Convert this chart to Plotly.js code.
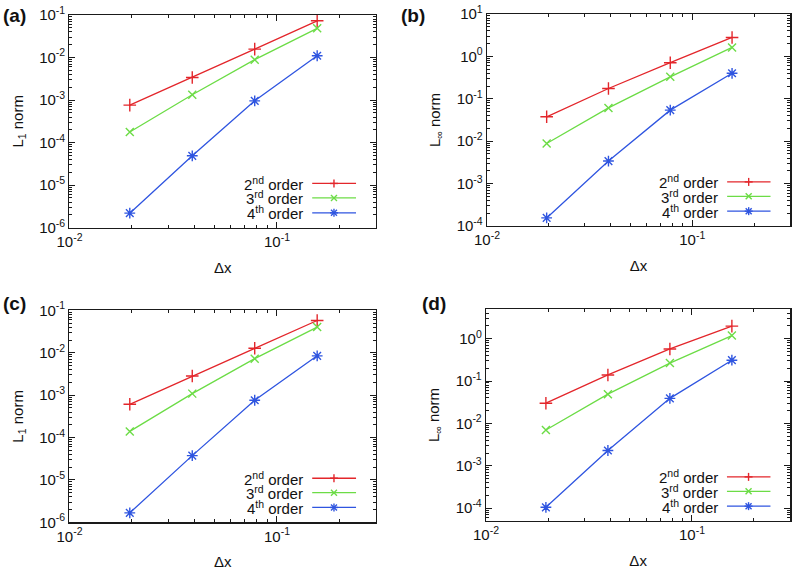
<!DOCTYPE html>
<html>
<head>
<meta charset="utf-8">
<script src="https://cdn.plot.ly/plotly-3.0.1.min.js"></script>
<style>html,body{margin:0;padding:0;background:#fff;}#plot{width:793px;height:572px;}</style>
</head>
<body>
<div id="plot"></div>
<script>
// ---- data ----
const dx = [0.01953125, 0.0390625, 0.078125, 0.15625];
const seriesNames = ['2<sup>nd</sup> order', '3<sup>rd</sup> order', '4<sup>th</sup> order'];
const panelLabels = ['(a)', '(b)', '(c)', '(d)'];
const yTitles = ['L<sub>1</sub> norm', 'L<sub>∞</sub> norm', 'L<sub>1</sub> norm', 'L<sub>∞</sub> norm'];
const xTitle = 'Δx';

const a2 = [7.6e-4, 3.4e-3, 1.58e-2, 7.3e-2];
const a3 = [1.78e-4, 1.33e-3, 8.9e-3, 4.85e-2];
const a4 = [2.2e-6, 4.9e-5, 9.6e-4, 1.1e-2];
const b2 = [0.0376, 0.175, 0.71, 2.8];
const b3 = [8.8e-3, 0.061, 0.33, 1.63];
const b4 = [1.55e-4, 3.4e-3, 0.054, 0.40];
const c2 = [6.1e-4, 2.85e-3, 1.28e-2, 5.8e-2];
const c3 = [1.4e-4, 1.09e-3, 7.3e-3, 4.05e-2];
const c4 = [1.67e-6, 3.75e-5, 7.6e-4, 8.5e-3];
const d2 = [0.030, 0.139, 0.57, 1.97];
const d3 = [7.0e-3, 0.049, 0.265, 1.18];
const d4 = [1.05e-4, 2.3e-3, 0.039, 0.31];

const xTickVals = [0.01, 0.1];
const xTickText = ['10<sup>-2</sup>', '10<sup>-1</sup>'];
const yTickValsL1 = [1e-6, 1e-5, 1e-4, 1e-3, 1e-2, 1e-1];
const yTickTextL1 = ['10<sup>-6</sup>', '10<sup>-5</sup>', '10<sup>-4</sup>', '10<sup>-3</sup>', '10<sup>-2</sup>', '10<sup>-1</sup>'];
const yTickValsB = [1e-4, 1e-3, 1e-2, 1e-1, 1, 10];
const yTickTextB = ['10<sup>-4</sup>', '10<sup>-3</sup>', '10<sup>-2</sup>', '10<sup>-1</sup>', '10<sup>0</sup>', '10<sup>1</sup>'];
const yTickValsD = [1e-4, 1e-3, 1e-2, 1e-1, 1];
const yTickTextD = ['10<sup>-4</sup>', '10<sup>-3</sup>', '10<sup>-2</sup>', '10<sup>-1</sup>', '10<sup>0</sup>'];

// ---- style ----
const W = 793, H = 572;
const FONT = 'Liberation Sans, Arial, Helvetica, sans-serif';
const colors = ['#e3262b', '#6cdc46', '#2f55e0'];
const symbols = ['cross-thin-open', 'x-thin-open', 'asterisk-open'];
const sizes = [9, 8, 9];
const AX = '#1a1a1a';

// minor tick positions (2..9 within each decade) for the log axes
function minorTicks(lo, hi) {
  const out = [];
  for (let e = Math.floor(lo) - 1; e <= Math.ceil(hi); e++)
    for (let m = 2; m <= 9; m++) out.push(m * Math.pow(10, e));
  return out;
}

const panels = [
  {vals: [a2, a3, a4], xd: [0.0876, 0.4741], yd: [0.6019, 0.9738], yr: [-6, -1], tv: yTickValsL1, tt: yTickTextL1},
  {vals: [b2, b3, b4], xd: [0.6141, 0.9965], yd: [0.6049, 0.9755], yr: [-4, 1], tv: yTickValsB, tt: yTickTextB},
  {vals: [c2, c3, c4], xd: [0.0876, 0.4741], yd: [0.0869, 0.4572], yr: [-6, -1], tv: yTickValsL1, tt: yTickTextL1},
  {vals: [d2, d3, d4], xd: [0.6129, 0.9965], yd: [0.0892, 0.4598], yr: [Math.log10(5e-5), Math.log10(5)], tv: yTickValsD, tt: yTickTextD}
];
const labelPos = [[14, 15], [413, 15], [14, 303], [434, 303]];

const traces = [];
const layout = {
  width: W, height: H,
  margin: {l: 0, r: 0, t: 0, b: 0},
  paper_bgcolor: '#fff', plot_bgcolor: '#fff',
  font: {family: FONT, size: 15, color: '#111'},
  showlegend: false,
  shapes: [], annotations: []
};

const legRows = [0.208, 0.140, 0.070];
function dp(d, f) { return d[0] + f * (d[1] - d[0]); }

panels.forEach((p, k) => {
  const n = k === 0 ? '' : String(k + 1);
  const xa = 'x' + n, ya = 'y' + n;
  p.vals.forEach((v, i) => {
    traces.push({
      x: dx, y: v, xaxis: xa, yaxis: ya, type: 'scatter', mode: 'lines+markers',
      line: {color: colors[i], width: 1.3},
      marker: {symbol: symbols[i], size: sizes[i], color: colors[i], line: {color: colors[i], width: 1.4}},
      hoverinfo: 'skip'
    });
  });
  function axis(extra, lo, hi) {
    return Object.assign({
      type: 'log', showline: true, linecolor: AX, linewidth: 1.3, mirror: 'ticks',
      ticks: 'inside', ticklen: 6, tickwidth: 1, tickcolor: AX,
      showgrid: false, zeroline: false, tickmode: 'array',
      tickfont: {family: FONT, size: 15, color: '#111'},
      minor: {ticks: 'inside', ticklen: 3, tickwidth: 1, tickcolor: AX, showgrid: false, tickmode: 'array', tickvals: minorTicks(lo, hi)}
    }, extra);
  }
  const xr = [-2, Math.log10(0.3)];
  layout['xaxis' + n] = axis({
    domain: p.xd, anchor: ya, range: xr,
    tickvals: xTickVals, ticktext: xTickText,
    title: {text: xTitle, font: {family: FONT, size: 15}, standoff: 13}
  }, xr[0], xr[1]);
  layout['yaxis' + n] = axis({
    domain: p.yd, anchor: xa, range: p.yr,
    tickvals: p.tv, ticktext: p.tt,
    title: {text: yTitles[k], font: {family: FONT, size: 15}, standoff: 12}
  }, p.yr[0], p.yr[1]);
  // panel label
  layout.annotations.push({
    xref: 'paper', yref: 'paper', x: labelPos[k][0] / W, y: 1 - labelPos[k][1] / H,
    xanchor: 'center', yanchor: 'middle', showarrow: false,
    text: '<b>' + panelLabels[k] + '</b>', font: {family: FONT, size: 19, color: '#111'}
  });
  // custom legend (text left, sample right)
  const lx0 = dp(p.xd, 0.792), lx1 = dp(p.xd, 0.935), mx = dp(p.xd, 0.863);
  const tx = dp(p.xd, 0.768);
  const sx = 4 / W, sy = 4 / H;
  seriesNames.forEach((name, i) => {
    const yy = dp(p.yd, legRows[i]);
    layout.annotations.push({
      xref: 'paper', yref: 'paper', x: tx, y: yy, xanchor: 'right', yanchor: 'middle',
      showarrow: false, text: name, font: {family: FONT, size: 15, color: '#111'}
    });
    layout.shapes.push({type: 'line', xref: 'paper', yref: 'paper', x0: lx0, x1: lx1, y0: yy, y1: yy, line: {color: colors[i], width: 1.3}});
    const segs = [];
    if (i === 0 || i === 2) { segs.push([-sx, 0, sx, 0]); segs.push([0, -sy, 0, sy]); }
    if (i === 1 || i === 2) { segs.push([-sx * 0.75, -sy * 0.75, sx * 0.75, sy * 0.75]); segs.push([-sx * 0.75, sy * 0.75, sx * 0.75, -sy * 0.75]); }
    segs.forEach(s => layout.shapes.push({
      type: 'line', xref: 'paper', yref: 'paper',
      x0: mx + s[0], y0: yy + s[1], x1: mx + s[2], y1: yy + s[3], line: {color: colors[i], width: 1.4}
    }));
  });
});

Plotly.newPlot('plot', traces, layout, {staticPlot: true, displayModeBar: false});
</script>
</body>
</html>
